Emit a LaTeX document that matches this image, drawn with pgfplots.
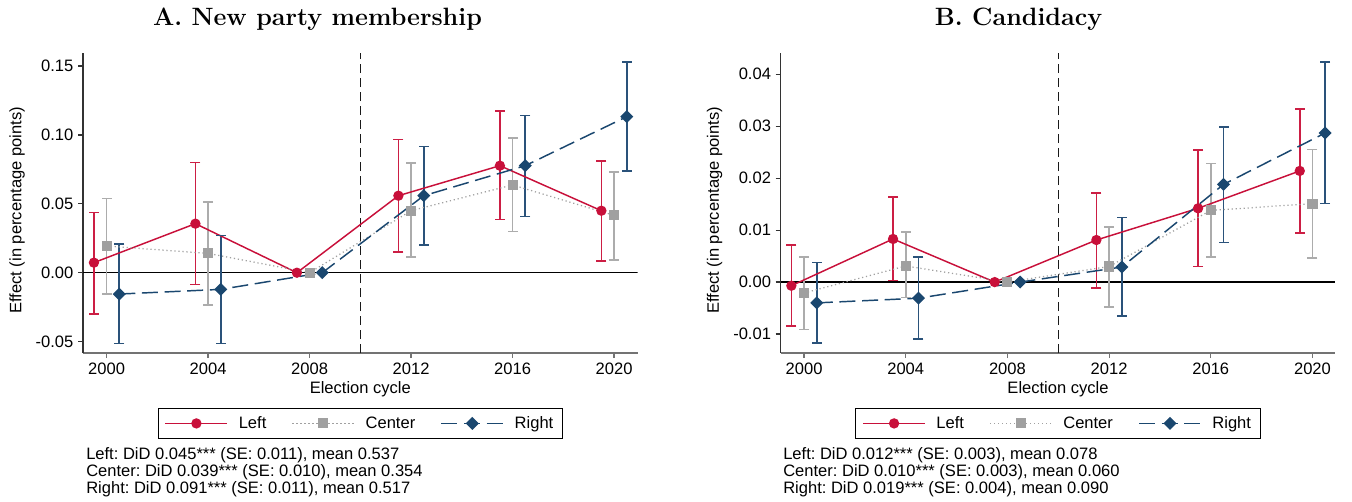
\documentclass[border=0pt]{standalone}
\usepackage{fontspec}
\setsansfont{Liberation Sans}
\usepackage{pgfplots}
\pgfplotsset{compat=1.18}
\usepackage{pgfplotstable}
\frenchspacing

\definecolor{leftc}{RGB}{200,16,58}
\definecolor{leftci}{RGB}{204,30,68}
\definecolor{centc}{RGB}{160,160,160}
\definecolor{centci}{RGB}{172,172,172}
\definecolor{rightc}{RGB}{26,71,111}
\definecolor{rightci}{RGB}{42,82,122}

% Panel A: new party membership
\pgfplotstableread{
x y lo hi
1999.5 0.0073 -0.0298 0.0438
2003.5 0.0356 -0.0085 0.0800
2007.5 0.0000 0.0000 0.0000
2011.5 0.0559 0.0152 0.0968
2015.5 0.0777 0.0385 0.1174
2019.5 0.0450 0.0087 0.0810
}\ALeft
\pgfplotstableread{
x y lo hi
2000 0.0194 -0.0155 0.0540
2004 0.0140 -0.0235 0.0515
2008 0.0000 0.0000 0.0000
2012 0.0450 0.0114 0.0796
2016 0.0637 0.0298 0.0978
2020 0.0416 0.0092 0.0733
}\ACenter
\pgfplotstableread{
x y lo hi
2000.5 -0.0155 -0.0513 0.0208
2004.5 -0.0121 -0.0513 0.0269
2008.5 0.0000 0.0000 0.0000
2012.5 0.0559 0.0201 0.0917
2016.5 0.0777 0.0407 0.1142
2020.5 0.1133 0.0738 0.1530
}\ARight

% Panel B: candidacy
\pgfplotstableread{
x y lo hi
1999.5 -0.0007 -0.0085 0.0071
2003.5 0.0083 0.0003 0.0164
2007.5 0.0000 0.0000 0.0000
2011.5 0.0081 -0.0011 0.0172
2015.5 0.0142 0.0030 0.0254
2019.5 0.0214 0.0094 0.0333
}\BLeft
\pgfplotstableread{
x y lo hi
2000 -0.0021 -0.0091 0.0048
2004 0.0031 -0.0030 0.0096
2008 0.0000 0.0000 0.0000
2012 0.0030 -0.0048 0.0106
2016 0.0138 0.0048 0.0228
2020 0.0151 0.0046 0.0255
}\BCenter
\pgfplotstableread{
x y lo hi
2000.5 -0.0040 -0.0117 0.0038
2004.5 -0.0031 -0.0110 0.0048
2008.5 0.0000 0.0000 0.0000
2012.5 0.0029 -0.0065 0.0124
2016.5 0.0188 0.0076 0.0299
2020.5 0.0287 0.0151 0.0424
}\BRight

\pgfplotsset{
  panel/.style={
    scale only axis,
    width=416pt, height=225.2pt,
    axis lines*=left,
    x axis line style={black!55, line width=0.9pt},
    y axis line style={black!80, line width=0.9pt},
    xtick style={black!55, line width=0.9pt},
    ytick style={black!80, line width=0.9pt},
    tick align=outside,
    major tick length=3.75pt,
    xtick={2000,2004,...,2020},
    x tick label style={/pgf/number format/1000 sep={}},
    y tick label style={/pgf/number format/fixed, /pgf/number format/fixed zerofill, /pgf/number format/precision=2},
    scaled y ticks=false,
    /pgf/number format/assume math mode=true,
    tick label style={font=\fontsize{12.4}{14}\sffamily},
    label style={font=\fontsize{12.4}{14}\sffamily},
    xlabel={Election cycle},
    ylabel={Effect (in percentage points)},
    xlabel style={at={(axis description cs:0.5,-0.12)}, anchor=center},
    ylabel style={at={(axis description cs:-0.119,0.475)}, anchor=center},
    legend columns=3,
    legend style={at={(axis description cs:0.5,-0.183)}, anchor=north,
      draw=black, line width=0.7pt,
      font=\fontsize{12.4}{14}\sffamily,
      inner xsep=5pt, inner ysep=4pt,
      /tikz/every odd column/.append style={column sep=6pt},
      /tikz/every even column/.append style={column sep=17pt}},
    legend image code/.code={\draw[mark repeat=2,mark phase=2,#1] plot coordinates {(0pt,0pt)(23.25pt,0pt)(46.5pt,0pt)};},
  },
  ci/.style={forget plot, only marks, mark=none, color=#1,
    skip coords between index={2}{3},
    error bars/.cd, y dir=both, y explicit, error mark=none,
    error bar style={solid, line width=1.2pt, draw=#1}},
  cap/.style={forget plot, only marks, mark=-, mark size=3.75pt, color=#1,
    skip coords between index={2}{3},
    mark options={solid, line width=1.2pt, draw=#1}},
  leftline/.style={leftc, solid, line width=1.1pt, mark=*, mark size=3.3pt, mark options={solid, fill=leftc, draw=leftc}},
  centline/.style={centc, line width=0.95pt, dash pattern=on 0.9pt off 2.1pt, mark=square*, mark size=3.3pt, mark options={solid, fill=centc, draw=centc}},
  rightline/.style={rightc, line width=1.1pt, dash pattern=on 12pt off 5pt, mark=square*, mark size=2.9pt, mark options={solid, rotate=45, fill=rightc, draw=rightc}},
}

\newcommand{\onecis}[2]{%
  \addplot[ci=#2] table[x=x, y=y, y error plus expr=\thisrow{hi}-\thisrow{y}, y error minus expr=\thisrow{y}-\thisrow{lo}] {#1};
  \addplot[cap=#2] table[x=x, y=hi] {#1};
  \addplot[cap=#2] table[x=x, y=lo] {#1};
}
\newcommand{\cis}[3]{\onecis{#1}{leftci}\onecis{#2}{centci}\onecis{#3}{rightci}}

\begin{document}
\begin{tikzpicture}
\useasboundingbox (0pt,0pt) rectangle (1014pt,375.75pt);

\begin{axis}[panel, at={(62.25pt,111pt)}, anchor=south west,
  xmin=1999.07, xmax=2020.93, ymin=-0.0583, ymax=0.1597,
  ytick={-0.05,0,0.05,0.10,0.15}]
  \addplot[black, line width=0.9pt, forget plot] coordinates {(1999.07,0) (2020.93,0)};
  \addplot[black!90, line width=1.1pt, dash pattern=on 7pt off 3.5pt, forget plot] coordinates {(2010,-0.0583) (2010,0.1597)};
  \cis{\ALeft}{\ACenter}{\ARight}
  \addplot[leftline] table[x=x,y=y] {\ALeft};
  \addplot[centline] table[x=x,y=y] {\ACenter};
  \addplot[rightline] table[x=x,y=y] {\ARight};
  \legend{Left,Center,Right}
\end{axis}

\begin{axis}[panel, at={(585.5pt,111pt)}, anchor=south west,
  xmin=1999.08, xmax=2020.9, ymin=-0.01365, ymax=0.04415,
  ytick={-0.01,0,0.01,0.02,0.03,0.04}]
  \addplot[black, line width=0.9pt, forget plot] coordinates {(1999.08,0) (2020.9,0)};
  \addplot[black!90, line width=1.1pt, dash pattern=on 7pt off 3.5pt, forget plot] coordinates {(2010,-0.01365) (2010,0.04415)};
  \cis{\BLeft}{\BCenter}{\BRight}
  \addplot[leftline] table[x=x,y=y] {\BLeft};
  \addplot[centline] table[x=x,y=y] {\BCenter};
  \addplot[rightline] table[x=x,y=y] {\BRight};
  \legend{Left,Center,Right}
\end{axis}

\node[font=\fontsize{18.8}{20}\bfseries, anchor=base] at (238.1pt,356.25pt) {A. New party membership};
\node[font=\fontsize{18.8}{20}\bfseries, anchor=base] at (763.9pt,356.25pt) {B. Candidacy};

\begin{scope}[every node/.style={font=\fontsize{12.4}{14}\sffamily, anchor=base west, inner sep=0pt}]
\node at (64.5pt,31.5pt) {Left: DiD 0.045*** (SE: 0.011), mean 0.537};
\node at (64.5pt,18.75pt) {Center: DiD 0.039*** (SE: 0.010), mean 0.354};
\node at (64.5pt,6pt) {Right: DiD 0.091*** (SE: 0.011), mean 0.517};
\node at (587.25pt,31.5pt) {Left: DiD 0.012*** (SE: 0.003), mean 0.078};
\node at (587.25pt,18.75pt) {Center: DiD 0.010*** (SE: 0.003), mean 0.060};
\node at (587.25pt,6pt) {Right: DiD 0.019*** (SE: 0.004), mean 0.090};
\end{scope}
\end{tikzpicture}
\end{document}
